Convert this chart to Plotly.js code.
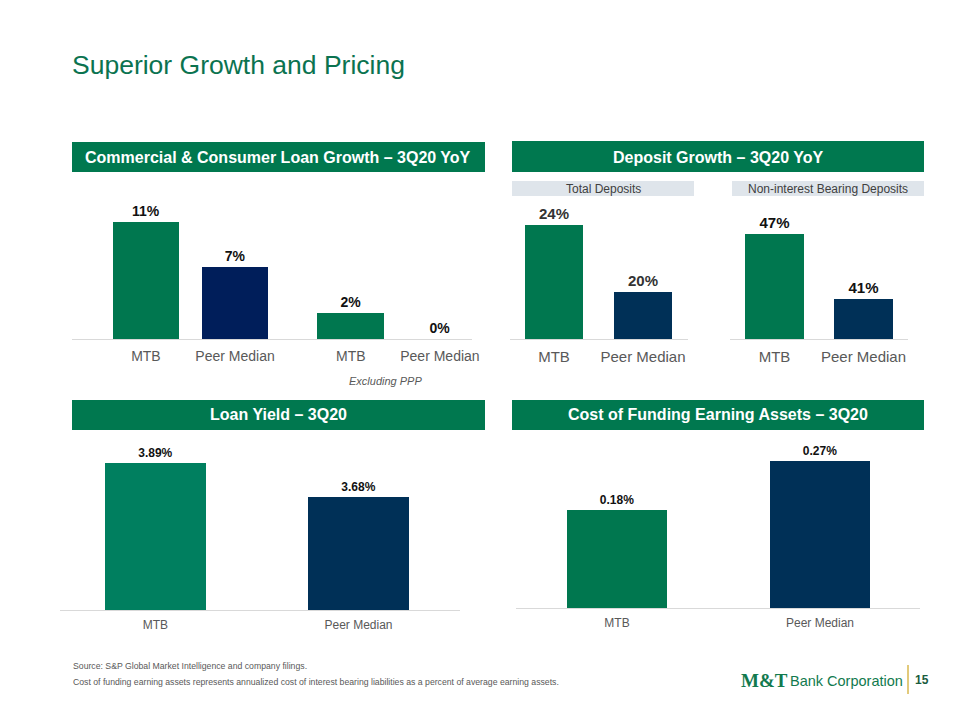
<!DOCTYPE html>
<html><head><meta charset="utf-8">
<script src="https://cdn.plot.ly/plotly-3.0.1.min.js"></script>
<style>html,body{margin:0;padding:0;background:#fff;}#chart{width:960px;height:720px;}</style>
</head><body><div id="chart"></div>
<script>
// ---- data ----
const loanCats = ['MTB', 'Peer Median', 'MTB', 'Peer Median'];
const loanVals = [11.2, 6.9, 2.5, 0];
const loanLabels = ['11%', '7%', '2%', '0%'];

const depCats = ['MTB', 'Peer Median'];
const totalDepVals = [24, 20];
const totalDepLabels = ['24%', '20%'];
const nibVals = [47, 41];
const nibLabels = ['47%', '41%'];

const yieldCats = ['MTB', 'Peer Median'];
const yieldVals = [3.89, 3.68];
const yieldLabels = ['3.89%', '3.68%'];

const fundCats = ['MTB', 'Peer Median'];
const fundVals = [0.18, 0.27];
const fundLabels = ['0.18%', '0.27%'];

// ---- styling ----
const W = 960, H = 720;
const px = x => x / W;
const py = y => 1 - y / H;
const GREEN = '#00774F', TEAL = '#007F5F', NAVY1 = '#001E5A', NAVY = '#003057';
const HDR = '#00784F';
const FONT = 'Liberation Sans, Arial, sans-serif';
const CAT_GRAY = '#595959';

const loanPos = loanCats.map((c, i) => i + (i >= 2 ? 0.3 : 0));
const twoPos = [0, 1];

function barTrace(xs, ys, labels, colors, width, xa, ya, fsize, tcolor) {
  return {
    type: 'bar', x: xs, y: ys, text: labels, textposition: 'outside',
    textfont: {family: FONT, size: fsize, color: tcolor || '#111', weight: 'bold'},
    marker: {color: colors, line: {width: 0}}, width: width,
    xaxis: xa, yaxis: ya, cliponaxis: false, hoverinfo: 'none', showlegend: false
  };
}

const data = [
  barTrace(loanPos, loanVals, loanLabels.map(t => '<b>' + t + '</b>'), [GREEN, NAVY1, GREEN, NAVY1], 0.75, 'x', 'y', 14),
  barTrace(twoPos, totalDepVals, totalDepLabels.map(t => '<b>' + t + '</b>'), [GREEN, NAVY], 0.66, 'x2', 'y2', 15, '#333'),
  barTrace(twoPos, nibVals, nibLabels.map(t => '<b>' + t + '</b>'), [GREEN, NAVY], 0.66, 'x3', 'y3', 15),
  barTrace(twoPos, yieldVals, yieldLabels.map(t => '<b>' + t + '</b>'), [TEAL, NAVY], 0.5, 'x4', 'y4', 12),
  barTrace(twoPos, fundVals, fundLabels.map(t => '<b>' + t + '</b>'), [GREEN, NAVY], 0.49, 'x5', 'y5', 12)
];

function xAxis(x0, x1, range, vals, texts, anchor, fsize) {
  return {
    domain: [px(x0), px(x1)], range: range, anchor: anchor,
    tickvals: vals, ticktext: texts, showgrid: false, zeroline: false,
    showline: true, linecolor: '#d9d9d9', linewidth: 1,
    ticks: 'outside', ticklen: 4, tickcolor: 'rgba(0,0,0,0)',
    tickfont: {family: FONT, size: fsize, color: CAT_GRAY}, fixedrange: true
  };
}
function yAxis(yb, yt, range, anchor) {
  return {
    domain: [py(yb), py(yt)], range: range, anchor: anchor,
    visible: false, showgrid: false, zeroline: false, fixedrange: true
  };
}

const layout = {
  width: W, height: H, margin: {l: 0, r: 0, t: 0, b: 0},
  paper_bgcolor: '#fff', plot_bgcolor: 'rgba(0,0,0,0)',
  font: {family: FONT}, showlegend: false, bargap: 0,
  xaxis: xAxis(72, 472, [-0.83, 3.66], loanPos, loanCats, 'y', 14),
  yaxis: yAxis(339, 190, [0, 14.3], 'x'),
  xaxis2: xAxis(510, 688, [-0.494, 1.506], twoPos, depCats, 'y2', 15),
  yaxis2: yAxis(339, 190, [17.2, 26.1], 'x2'),
  xaxis3: xAxis(730, 908, [-0.5, 1.5], twoPos, depCats, 'y3', 15),
  yaxis3: yAxis(339, 190, [37.3, 51.1], 'x3'),
  xaxis4: xAxis(60, 460, [-0.47, 1.5], twoPos, yieldCats, 'y4', 12),
  yaxis4: yAxis(610, 440, [2.98, 4.03], 'x4'),
  xaxis5: xAxis(516, 920, [-0.4975, 1.4926], twoPos, fundCats, 'y5', 12),
  yaxis5: yAxis(608, 440, [0, 0.308], 'x5'),
  shapes: [],
  annotations: []
};

function rect(x0, y0, x1, y1, color) {
  layout.shapes.push({type: 'rect', xref: 'paper', yref: 'paper',
    x0: px(x0), x1: px(x1), y0: py(y1), y1: py(y0), fillcolor: color, line: {width: 0}, layer: 'below'});
}
function text(x, y, t, size, color, opts) {
  layout.annotations.push(Object.assign({xref: 'paper', yref: 'paper', x: px(x), y: py(y), text: t,
    showarrow: false, xanchor: 'center', yanchor: 'middle',
    font: {family: FONT, size: size, color: color}}, opts || {}));
}

// title
text(70, 65, 'Superior Growth and Pricing', 26.5, '#0B7350', {xanchor: 'left'});

// headers
rect(72, 142, 485, 172, HDR);
text(278, 157, '<b>Commercial &amp; Consumer Loan Growth – 3Q20 YoY</b>', 16, '#fff');
rect(512, 141, 924, 172, HDR);
text(718, 157, '<b>Deposit Growth – 3Q20 YoY</b>', 16, '#fff');
rect(72, 400, 485, 430, HDR);
text(278, 415, '<b>Loan Yield – 3Q20</b>', 16, '#fff');
rect(512, 400, 924, 430, HDR);
text(718, 415, '<b>Cost of Funding Earning Assets – 3Q20</b>', 16, '#fff');

// sub headers
rect(512, 181, 694, 196, '#DFE5EB');
text(603, 189, 'Total Deposits', 12, '#404040');
rect(732, 181, 924, 196, '#DFE5EB');
text(828, 189, 'Non-interest Bearing Deposits', 12, '#404040');

// note
text(385, 381, '<i>Excluding PPP</i>', 11, '#595959');

// footer
text(71, 666, 'Source: S&amp;P Global Market Intelligence and company filings.', 8.7, '#595959', {xanchor: 'left'});
text(71, 682, 'Cost of funding earning assets represents annualized cost of interest bearing liabilities as a percent of average earning assets.', 8.7, '#595959', {xanchor: 'left'});

// logo
text(739, 680, '<b>M&amp;T</b>', 19, '#127A4E', {xanchor: 'left', font: {family: 'Liberation Serif, Times New Roman, serif', size: 19, color: '#127A4E'}});
text(788, 681, 'Bank Corporation', 15, '#127A4E', {xanchor: 'left', font: {family: 'Liberation Sans, Arial, sans-serif', size: 14.5, color: '#127A4E'}});
layout.shapes.push({type: 'line', xref: 'paper', yref: 'paper', x0: px(908), x1: px(908), y0: py(665), y1: py(694), line: {color: '#D8B84F', width: 1.5}});
text(922, 680, '<b>15</b>', 12, '#1A5C3E', {xanchor: 'center'});

Plotly.newPlot('chart', data, layout, {staticPlot: true, displayModeBar: false});
</script>
</body></html>
